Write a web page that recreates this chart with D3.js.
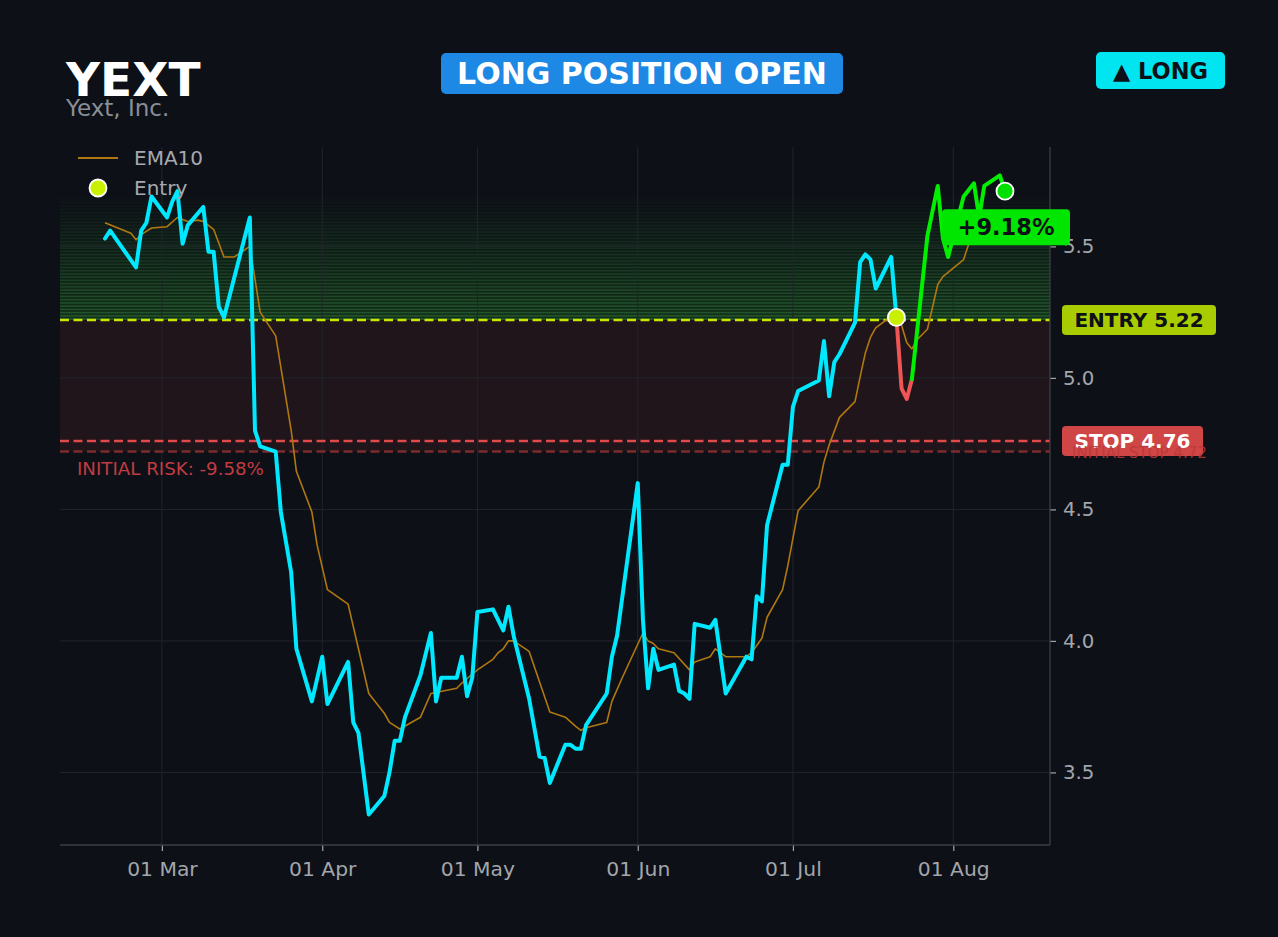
<!DOCTYPE html>
<html>
<head>
<meta charset="utf-8">
<script src="https://cdn.jsdelivr.net/npm/d3@7"></script>
<style>
  html, body { margin: 0; padding: 0; background: #0d1017; }
  svg { display: block; }
</style>
</head>
<body>
<div id="chart"></div>
<script>
// ---------- DATA ----------
const ticker = "YEXT";
const companyName = "Yext, Inc.";
const statusText = "LONG POSITION OPEN";
const sideText = "▲ LONG";

const priceDates = ["2024-02-19","2024-02-20","2024-02-25","2024-02-26","2024-02-27","2024-02-28",
  "2024-03-02","2024-03-03","2024-03-04","2024-03-05","2024-03-06","2024-03-09","2024-03-10","2024-03-11",
  "2024-03-12","2024-03-13","2024-03-18","2024-03-19","2024-03-20","2024-03-23","2024-03-24","2024-03-26",
  "2024-03-27","2024-03-30","2024-04-01","2024-04-02","2024-04-06","2024-04-07","2024-04-08","2024-04-10",
  "2024-04-13","2024-04-14","2024-04-15","2024-04-16","2024-04-17","2024-04-20","2024-04-22","2024-04-23",
  "2024-04-24","2024-04-27","2024-04-28","2024-04-29","2024-04-30","2024-05-01","2024-05-04","2024-05-06",
  "2024-05-07","2024-05-08","2024-05-11","2024-05-13","2024-05-14","2024-05-15","2024-05-18","2024-05-19",
  "2024-05-20","2024-05-21","2024-05-22","2024-05-26","2024-05-27","2024-05-28","2024-06-01","2024-06-02",
  "2024-06-03","2024-06-04","2024-06-05","2024-06-08","2024-06-09","2024-06-10","2024-06-11","2024-06-12",
  "2024-06-15","2024-06-16","2024-06-18","2024-06-22","2024-06-23","2024-06-24","2024-06-25","2024-06-26",
  "2024-06-29","2024-06-30","2024-07-01","2024-07-02","2024-07-06","2024-07-07","2024-07-08","2024-07-09",
  "2024-07-10","2024-07-13","2024-07-14","2024-07-15","2024-07-16","2024-07-17","2024-07-20","2024-07-21",
  "2024-07-22","2024-07-23","2024-07-24","2024-07-27","2024-07-29","2024-07-30","2024-07-31","2024-08-03",
  "2024-08-05","2024-08-06","2024-08-07","2024-08-10","2024-08-11"];
const priceValues = [5.53,5.56,5.42,5.56,5.59,5.69,
  5.61,5.67,5.71,5.51,5.58,5.65,5.48,5.48,
  5.27,5.23,5.61,4.80,4.74,4.72,4.49,4.26,
  3.97,3.77,3.94,3.76,3.92,3.69,3.65,3.34,
  3.41,3.50,3.62,3.62,3.71,3.87,4.03,3.77,
  3.86,3.86,3.94,3.79,3.86,4.11,4.12,4.04,
  4.13,4.02,3.78,3.56,3.555,3.46,3.605,3.605,
  3.59,3.59,3.68,3.80,3.94,4.02,4.60,4.08,
  3.82,3.97,3.89,3.91,3.81,3.80,3.78,4.065,
  4.05,4.08,3.80,3.94,3.93,4.17,4.15,4.44,
  4.67,4.67,4.89,4.95,4.99,5.14,4.93,5.06,
  5.09,5.21,5.44,5.47,5.45,5.34,5.46,5.23,
  4.96,4.92,4.995,5.54,5.73,5.53,5.46,5.69,
  5.74,5.61,5.73,5.77,5.71];

const emaDates = ["2024-02-19","2024-02-24","2024-02-25","2024-02-26","2024-02-28","2024-03-02","2024-03-04",
  "2024-03-06","2024-03-08","2024-03-09","2024-03-11","2024-03-13","2024-03-15","2024-03-18","2024-03-20",
  "2024-03-23","2024-03-26","2024-03-27","2024-03-30","2024-03-31","2024-04-02","2024-04-06","2024-04-10",
  "2024-04-13","2024-04-14","2024-04-16","2024-04-20","2024-04-22","2024-04-27","2024-04-28","2024-05-01",
  "2024-05-04","2024-05-05","2024-05-06","2024-05-07","2024-05-08","2024-05-11","2024-05-13","2024-05-15",
  "2024-05-18","2024-05-20","2024-05-21","2024-05-22","2024-05-26","2024-05-27","2024-05-29","2024-06-02",
  "2024-06-03","2024-06-04","2024-06-05","2024-06-08","2024-06-11","2024-06-12","2024-06-15","2024-06-16",
  "2024-06-18","2024-06-22","2024-06-23","2024-06-25","2024-06-26","2024-06-29","2024-06-30","2024-07-02",
  "2024-07-06","2024-07-07","2024-07-08","2024-07-10","2024-07-13","2024-07-14","2024-07-15","2024-07-16",
  "2024-07-17","2024-07-19","2024-07-21","2024-07-22","2024-07-23","2024-07-24","2024-07-25","2024-07-27",
  "2024-07-29","2024-07-30","2024-08-03","2024-08-04","2024-08-05","2024-08-07","2024-08-11"];
const emaValues = [5.59,5.55,5.525,5.545,5.57,5.575,5.61,
  5.595,5.60,5.595,5.565,5.46,5.46,5.50,5.25,
  5.16,4.80,4.645,4.49,4.365,4.195,4.14,3.80,
  3.725,3.69,3.665,3.71,3.80,3.82,3.84,3.89,
  3.93,3.955,3.97,4.00,4.00,3.96,3.845,3.73,
  3.71,3.675,3.66,3.67,3.69,3.77,3.86,4.03,
  4.00,3.99,3.97,3.955,3.89,3.92,3.94,3.97,
  3.94,3.94,3.955,4.01,4.09,4.195,4.285,4.495,
  4.585,4.68,4.745,4.85,4.91,5.005,5.095,5.155,
  5.19,5.22,5.215,5.20,5.135,5.11,5.145,5.185,
  5.355,5.385,5.45,5.51,5.545,5.59,5.64];

const entryDate = "2024-07-21";
const entryPrice = 5.22;
const stopPrice = 4.76;
const initialStop = 4.72;
const pnlText = "+9.18%";
const riskText = "INITIAL RISK: -9.58%";
const yTicks = [3.5, 4.0, 4.5, 5.0, 5.5];
const yDomain = [3.224, 5.878];

// ---------- SETUP ----------
const W = 1278, H = 937;
const M = { left: 60, right: 1050, top: 147, bottom: 845 };
const C = {
  bg: "#0d1017", grid: "#22252c", spine: "#3b3e45", tick: "#a3a6ab",
  cyan: "#00e8ff", ema: "#b07810", entry: "#c8e600", stop: "#e04a4a",
  initStop: "#7c2b2e", redFill: "#1f151b", green: "#00f000", red: "#f05555"
};
const font = "'DejaVu Sans', Verdana, sans-serif";
const parse = d3.timeParse("%Y-%m-%d");

const price = priceDates.map((d, i) => ({ date: parse(d), v: priceValues[i] }));
const ema = emaDates.map((d, i) => ({ date: parse(d), v: emaValues[i] }));

const ext = d3.extent(price, d => d.date);
const span = ext[1] - ext[0];
const x = d3.scaleTime()
  .domain([new Date(+ext[0] - span * 0.05), new Date(+ext[1] + span * 0.05)])
  .range([M.left, M.right]);
const y = d3.scaleLinear().domain(yDomain).range([M.bottom, M.top]);

const svg = d3.select("#chart").append("svg")
  .attr("width", W).attr("height", H)
  .style("font-family", font);
svg.append("rect").attr("width", W).attr("height", H).attr("fill", C.bg);

const defs = svg.append("defs");
defs.append("clipPath").attr("id", "plotclip").append("rect")
  .attr("x", M.left).attr("y", M.top)
  .attr("width", M.right - M.left).attr("height", M.bottom - M.top);

const plot = svg.append("g").attr("clip-path", "url(#plotclip)");

// risk zone fill (entry -> initial stop)
plot.append("rect")
  .attr("x", M.left).attr("width", M.right - M.left)
  .attr("y", y(entryPrice)).attr("height", y(initialStop) - y(entryPrice))
  .attr("fill", C.redFill);

// profit zone: striped fading green bands (entry -> last price)
const lastPt = price[price.length - 1];
const nBands = 40;
const bandStep = (lastPt.v - entryPrice) / nBands;
const stripeCol = d3.interpolateRgb(C.bg, "#22582b");
const gapCol = d3.interpolateRgb(C.bg, "#14301a");
d3.range(nBands).forEach(i => {
  const lo = entryPrice + i * bandStep, hi = lo + bandStep;
  const t = Math.pow(1 - i / nBands, 1.1);
  const y0 = y(hi), y1 = y(lo), h = y1 - y0;
  plot.append("rect").attr("x", M.left).attr("width", M.right - M.left)
    .attr("y", y0).attr("height", h).attr("fill", gapCol(t));
  plot.append("rect").attr("x", M.left).attr("width", M.right - M.left)
    .attr("y", y0 + h * 0.45).attr("height", h * 0.5).attr("fill", stripeCol(t));
});

// grid
const xTicks = d3.timeMonth.range(d3.timeMonth.ceil(x.domain()[0]), x.domain()[1]);
plot.append("g").selectAll("line").data(xTicks).join("line")
  .attr("x1", d => x(d)).attr("x2", d => x(d))
  .attr("y1", M.top).attr("y2", M.bottom)
  .attr("stroke", C.grid).attr("stroke-width", 1);
plot.append("g").selectAll("line").data(yTicks).join("line")
  .attr("x1", M.left).attr("x2", M.right)
  .attr("y1", d => y(d)).attr("y2", d => y(d))
  .attr("stroke", C.grid).attr("stroke-width", 1);

// level lines
function hline(v, col, dash, w) {
  plot.append("line").attr("x1", M.left).attr("x2", M.right)
    .attr("y1", y(v)).attr("y2", y(v))
    .attr("stroke", col).attr("stroke-width", w).attr("stroke-dasharray", dash);
}
hline(initialStop, C.initStop, "9,4.5", 2.6);
hline(stopPrice, C.stop, "9,4.5", 2.6);
hline(entryPrice, C.entry, "9,4.5", 2.6);

// axes
const xAxis = d3.axisBottom(x).tickValues(xTicks)
  .tickFormat(d3.timeFormat("%d %b")).tickSize(6).tickPadding(6);
const gx = svg.append("g").attr("transform", `translate(0,${M.bottom})`).call(xAxis);
gx.select(".domain").remove();
gx.selectAll("line").attr("stroke", C.tick).attr("stroke-width", 1.2);
gx.selectAll("text").attr("fill", C.tick).style("font-size", "20.3px").style("font-family", font)
  .attr("dy", "0.92em");

const yAxis = d3.axisRight(y).tickValues(yTicks).tickFormat(d3.format(".1f"))
  .tickSize(6).tickPadding(7);
const gy = svg.append("g").attr("transform", `translate(${M.right},0)`).call(yAxis);
gy.select(".domain").remove();
gy.selectAll("line").attr("stroke", C.tick).attr("stroke-width", 1.2);
gy.selectAll("text").attr("fill", C.tick).style("font-size", "19.8px").style("font-family", font);

// spines (bottom & right)
svg.append("line").attr("x1", M.left).attr("x2", M.right).attr("y1", M.bottom).attr("y2", M.bottom)
  .attr("stroke", C.spine).attr("stroke-width", 1.3);
svg.append("line").attr("x1", M.right).attr("x2", M.right).attr("y1", M.top).attr("y2", M.bottom)
  .attr("stroke", C.spine).attr("stroke-width", 1.3);

// EMA line
const line = d3.line().x(d => x(d.date)).y(d => y(d.v));
plot.append("path").datum(ema).attr("d", line)
  .attr("fill", "none").attr("stroke", C.ema).attr("stroke-width", 1.6)
  .attr("stroke-linejoin", "round");

// price line: cyan up to entry, then green/red by side of entry
const entryIdx = price.findIndex(d => +d.date === +parse(entryDate));
plot.append("path").datum(price.slice(0, entryIdx + 1)).attr("d", line)
  .attr("fill", "none").attr("stroke", C.cyan).attr("stroke-width", 4)
  .attr("stroke-linejoin", "round").attr("stroke-linecap", "round");

const runs = [];
for (let i = entryIdx + 1; i < price.length; i++) {
  const col = price[i].v < entryPrice ? C.red : C.green;
  const last = runs[runs.length - 1];
  if (last && last.col === col) last.pts.push(price[i]);
  else runs.push({ col, pts: [price[i - 1], price[i]] });
}
runs.forEach(r => {
  plot.append("path").datum(r.pts).attr("d", line)
    .attr("fill", "none").attr("stroke", r.col).attr("stroke-width", 4)
    .attr("stroke-linejoin", "round").attr("stroke-linecap", "round");
});

// markers
const entryPt = price[entryIdx];
svg.append("circle").attr("cx", x(entryPt.date)).attr("cy", y(entryPt.v)).attr("r", 8.5)
  .attr("fill", "#c8f000").attr("stroke", "#ffffff").attr("stroke-width", 1.8);
svg.append("circle").attr("cx", x(lastPt.date)).attr("cy", y(lastPt.v)).attr("r", 8.5)
  .attr("fill", "#00e000").attr("stroke", "#ffffff").attr("stroke-width", 1.8);

// legend
const lg = svg.append("g");
lg.append("line").attr("x1", 78).attr("x2", 118).attr("y1", 158).attr("y2", 158)
  .attr("stroke", C.ema).attr("stroke-width", 2);
lg.append("text").attr("x", 134).attr("y", 165).text("EMA10")
  .attr("fill", "#a6a9ae").style("font-size", "20px");
lg.append("circle").attr("cx", 98).attr("cy", 188).attr("r", 8.5)
  .attr("fill", "#c8f000").attr("stroke", "#ffffff").attr("stroke-width", 1.8);
lg.append("text").attr("x", 134).attr("y", 195).text("Entry")
  .attr("fill", "#a6a9ae").style("font-size", "20px");

// risk text
svg.append("text").attr("x", 77).attr("y", y(initialStop) + 23).text(riskText)
  .attr("fill", "#c23b40").style("font-size", "18.2px");

// right level labels
function levelLabel(v, txt, bg, fg, w) {
  const cy = y(v);
  svg.append("rect").attr("x", 1062).attr("y", cy - 15).attr("width", w).attr("height", 30)
    .attr("rx", 4).attr("fill", bg);
  svg.append("text").attr("x", 1062 + w / 2).attr("y", cy + 7).attr("text-anchor", "middle")
    .text(txt).attr("fill", fg).style("font-size", "20px").style("font-weight", "bold");
}
levelLabel(entryPrice, "ENTRY " + entryPrice.toFixed(2), "#a8cc00", "#0d1017", 154);
levelLabel(stopPrice, "STOP " + stopPrice.toFixed(2), "#d04545", "#ffffff", 141);
svg.append("text").attr("x", 1072).attr("y", y(initialStop) + 6)
  .text("INITIAL STOP " + initialStop.toFixed(2))
  .attr("fill", "#b8393b").attr("opacity", 0.85).style("font-size", "15px");

// P&L badge near last price
const bx = x(lastPt.date), by = y(lastPt.v) + 36;
svg.append("rect").attr("x", bx - 63).attr("y", by - 18).attr("width", 128).attr("height", 36)
  .attr("rx", 4).attr("fill", "#00e600");
svg.append("text").attr("x", bx + 1).attr("y", by + 8).attr("text-anchor", "middle")
  .text(pnlText).attr("fill", "#0d1017").style("font-size", "22.5px").style("font-weight", "bold");

// header
svg.append("text").attr("x", 66).attr("y", 96).text(ticker)
  .attr("fill", "#ffffff").style("font-size", "47px").style("font-weight", "bold");
svg.append("text").attr("x", 66).attr("y", 116).text(companyName)
  .attr("fill", "#8a8e96").style("font-size", "23px");

svg.append("rect").attr("x", 441).attr("y", 53).attr("width", 402).attr("height", 41)
  .attr("rx", 5).attr("fill", "#1e88e5");
svg.append("text").attr("x", 642).attr("y", 84).attr("text-anchor", "middle")
  .text(statusText).attr("fill", "#ffffff").style("font-size", "30px").style("font-weight", "bold");

svg.append("rect").attr("x", 1096).attr("y", 52).attr("width", 129).attr("height", 37)
  .attr("rx", 5).attr("fill", "#00e5f0");
svg.append("text").attr("x", 1160.5).attr("y", 79).attr("text-anchor", "middle")
  .text(sideText).attr("fill", "#0d1017").style("font-size", "22.5px").style("font-weight", "bold");
</script>
</body>
</html>
